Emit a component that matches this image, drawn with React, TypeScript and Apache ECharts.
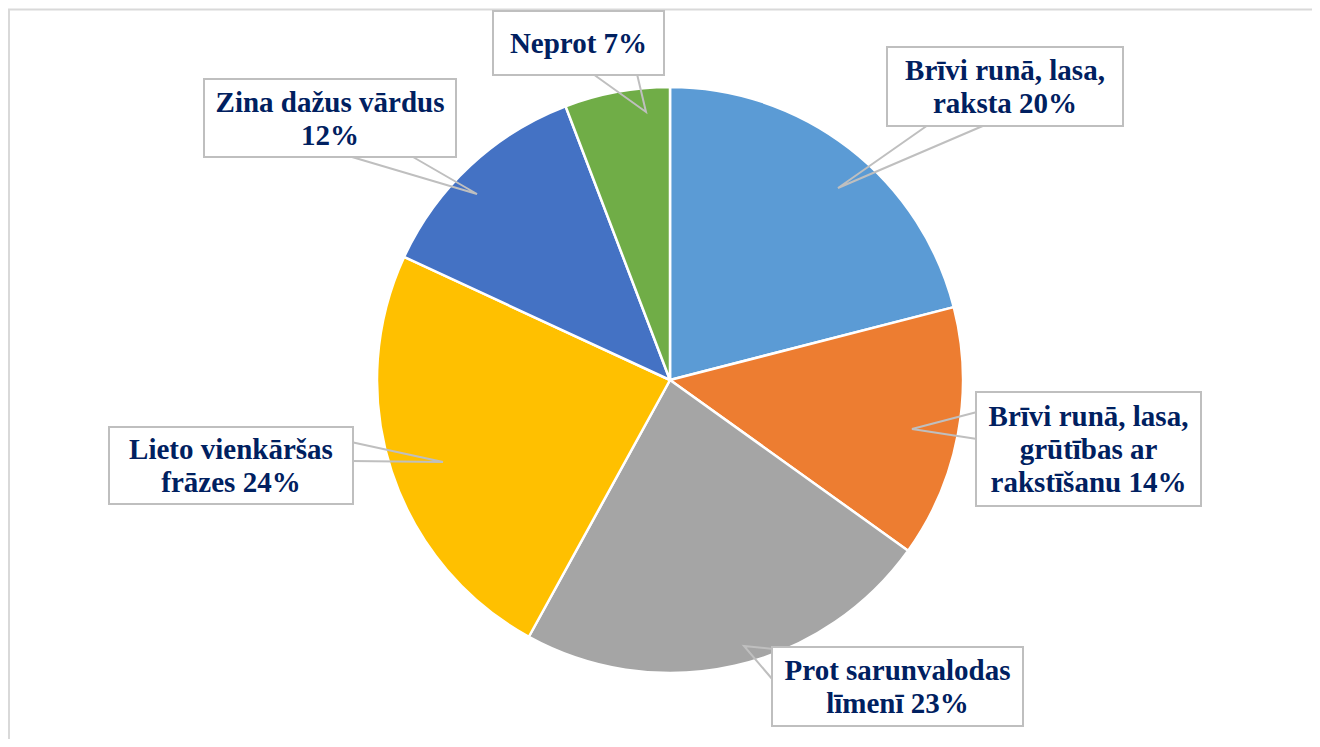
import React, { useEffect, useRef } from "react";
import * as echarts from "echarts";

// Data
const categories = [
  "Brīvi runā, lasa, raksta",
  "Brīvi runā, lasa, grūtības ar rakstīšanu",
  "Prot sarunvalodas līmenī",
  "Lieto vienkāršas frāzes",
  "Zina dažus vārdus",
  "Neprot",
];
// slice sizes (percent)
const values = [21, 13.9, 23.1, 23.9, 12.3, 5.8];
// label texts as printed in the picture
const labelTexts = [
  "Brīvi runā, lasa,\nraksta 20%",
  "Brīvi runā, lasa,\ngrūtības ar\nrakstīšanu 14%",
  "Prot sarunvalodas\nlīmenī 23%",
  "Lieto vienkāršas\nfrāzes 24%",
  "Zina dažus vārdus\n12%",
  "Neprot 7%",
];
const colors = ["#5B9BD5", "#ED7D31", "#A5A5A5", "#FFC000", "#4472C4", "#70AD47"];

// Layout of callout boxes (centre x, centre y, width, height) in chart pixels
const boxLayout = [
  [997, 78.5, 234, 77],
  [1080.5, 441, 223, 112],
  [889.5, 678.5, 249, 77],
  [223, 457.5, 242, 75],
  [322, 110, 250, 76],
  [570.5, 35, 169, 62],
];
// Callout pointer layout: base point A, tip, base point B (chart pixels)
const pointerLayout = [
  [[920, 117], [830, 180], [977, 117]],
  [[969, 404], [904, 421], [969, 431]],
  [[765, 641], [736, 638], [765, 672]],
  [[343, 434], [435, 454], [343, 453]],
  [[344, 149], [469, 186], [405, 149]],
  [[585, 66], [638, 104], [629, 66]],
];
const LINE_H = 33;
const FONT = "'Liberation Serif', 'Times New Roman', serif";
const CENTER = [662, 372];
const RADIUS = 293;

export default function App() {
  const ref = useRef<HTMLDivElement>(null);
  useEffect(() => {
    if (!ref.current) return;
    const chart = echarts.init(ref.current, null, { renderer: "svg" });
    const sliceData = categories.map((name, i) => ({
      name,
      value: values[i],
      itemStyle: { color: colors[i] },
    }));
    const labelData = categories.map((name, i) => {
      const [, , w, h] = boxLayout[i];
      const n = labelTexts[i].split("\n").length;
      const pv = Math.max(0, (h - n * LINE_H) / 2);
      return {
        name,
        value: values[i],
        label: {
          formatter: labelTexts[i],
          width: w - 4,
          padding: [pv, 2, pv, 2],
        },
      };
    });
    chart.setOption({
      animation: false,
      graphic: [
        {
          type: "rect",
          shape: { x: 1, y: 1.5, width: 3000, height: 3000 },
          style: { fill: "none", stroke: "#d9d9d9", lineWidth: 2 },
          silent: true,
        },
      ],
      series: [
        {
          type: "pie",
          z: 2,
          center: CENTER,
          radius: RADIUS,
          startAngle: 90,
          clockwise: true,
          itemStyle: { borderColor: "#ffffff", borderWidth: 2.5 },
          label: { show: false },
          labelLine: { show: false },
          data: sliceData,
        },
        {
          type: "pie",
          z: 5,
          silent: true,
          center: CENTER,
          radius: RADIUS,
          startAngle: 90,
          clockwise: true,
          avoidLabelOverlap: false,
          itemStyle: { color: "rgba(0,0,0,0)", borderWidth: 0 },
          label: {
            show: true,
            position: "outside",
            color: "#002060",
            fontFamily: FONT,
            fontWeight: "bold",
            fontSize: 29,
            lineHeight: LINE_H,
            align: "center",
            backgroundColor: "#ffffff",
            borderColor: "#bfbfbf",
            borderWidth: 2,
          },
          labelLine: {
            show: true,
            showAbove: true,
            length: 20,
            length2: 20,
            lineStyle: { color: "#bfbfbf", width: 2 },
          },
          labelLayout: (params: any) => {
            const b = boxLayout[params.dataIndex];
            return {
              x: b[0],
              y: b[1],
              align: "center",
              verticalAlign: "middle",
              labelLinePoints: pointerLayout[params.dataIndex],
            };
          },
          data: labelData,
        },
      ],
    });
    return () => chart.dispose();
  }, []);
  return <div ref={ref} style={{ width: 1312, height: 731 }} />;
}
